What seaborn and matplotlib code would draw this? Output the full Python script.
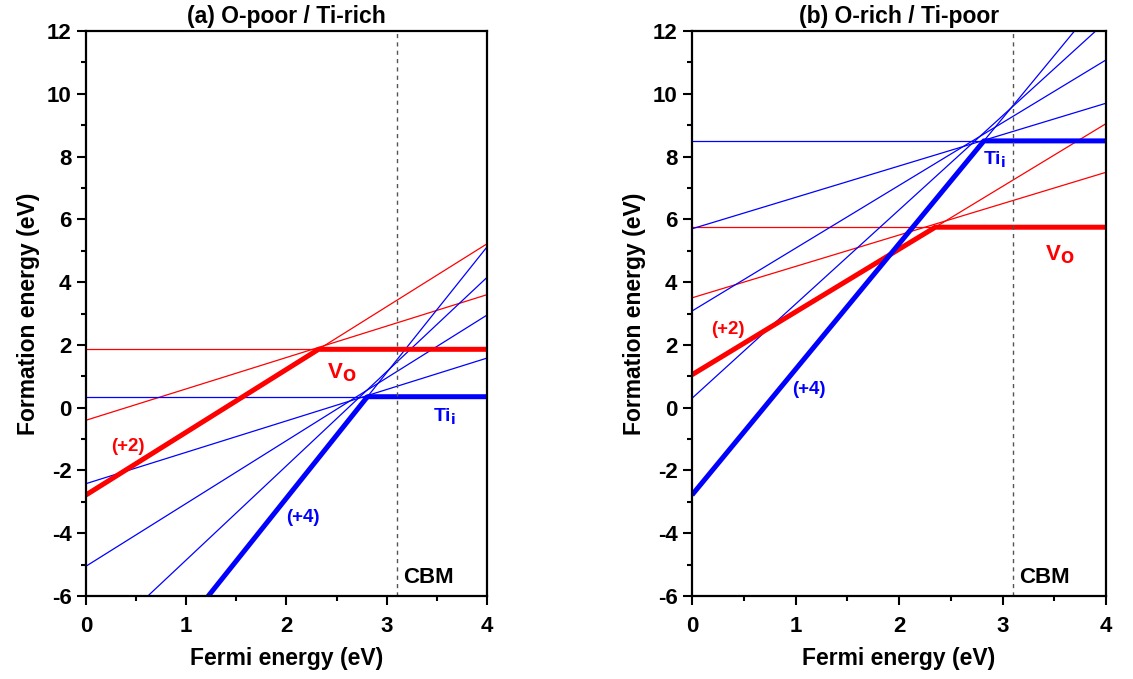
import numpy as np
import pandas as pd
import matplotlib
matplotlib.use("Agg")
import matplotlib.pyplot as plt
import seaborn as sns

# -- Data: formation energy E = E0 + q * E_F ------------------------
charges_vo = [0, 1, 2]
charges_ti = [0, 1, 2, 3, 4]

# intercepts at E_F = 0 (eV) for each charge state
vo_e0_a = [1.86, -0.40, -2.78]
ti_e0_a = [0.35, -2.42, -5.05, -7.85, -10.88]
vo_e0_b = [5.75, 3.50, 1.05]
ti_e0_b = [8.50, 5.70, 3.08, 0.30, -2.78]

panel_titles = ["(a) O-poor / Ti-rich", "(b) O-rich / Ti-poor"]
cbm = 3.1
fermi = np.linspace(0, 4, 801)

RED = "#FF0000"
BLUE = "#0000FF"

sns.set_theme(style="ticks")
plt.rcParams["font.family"] = ["Liberation Sans", "DejaVu Sans"]
plt.rcParams["font.weight"] = "bold"
plt.rcParams["axes.labelweight"] = "bold"
plt.rcParams["axes.titleweight"] = "bold"
plt.rcParams["axes.unicode_minus"] = False
plt.rcParams["text.color"] = "black"
plt.rcParams["axes.labelcolor"] = "black"
plt.rcParams["xtick.color"] = "black"
plt.rcParams["ytick.color"] = "black"


def lines_frame(charges, e0s, name):
    rows = []
    for q, e0 in zip(charges, e0s):
        rows.append(pd.DataFrame({"EF": fermi, "E": e0 + q * fermi,
                                  "q": q, "defect": name}))
    return pd.concat(rows, ignore_index=True)


def envelope(charges, e0s, name):
    vals = np.min([e0 + q * fermi for q, e0 in zip(charges, e0s)], axis=0)
    return pd.DataFrame({"EF": fermi, "E": vals, "defect": name})


fig = plt.figure(figsize=(11.33, 6.79), dpi=100)
ax_a = fig.add_axes([0.0759, 0.1222, 0.3539, 0.8321])
ax_b = fig.add_axes([0.6108, 0.1222, 0.3654, 0.8321])

panels = [
    (ax_a, vo_e0_a, ti_e0_a),
    (ax_b, vo_e0_b, ti_e0_b),
]

for (ax, vo_e0, ti_e0), title in zip(panels, panel_titles):
    thin = pd.concat([lines_frame(charges_vo, vo_e0, "V_O"),
                      lines_frame(charges_ti, ti_e0, "Ti_i")], ignore_index=True)
    thick = pd.concat([envelope(charges_vo, vo_e0, "V_O"),
                       envelope(charges_ti, ti_e0, "Ti_i")], ignore_index=True)
    sns.lineplot(data=thin, x="EF", y="E", hue="defect", units="q",
                 estimator=None, palette={"V_O": RED, "Ti_i": BLUE},
                 linewidth=0.9, legend=False, ax=ax)
    sns.lineplot(data=thick, x="EF", y="E", hue="defect",
                 estimator=None, palette={"V_O": RED, "Ti_i": BLUE},
                 linewidth=3.6, legend=False, ax=ax, solid_capstyle="butt")
    ax.axvline(cbm, color="#555555", linewidth=1.0, linestyle=(0, (3, 3)))

    ax.set_xlim(0, 4)
    ax.set_ylim(-6, 12)
    ax.set_xticks([0, 1, 2, 3, 4])
    ax.set_xticks(np.arange(0.5, 4, 1.0), minor=True)
    ax.set_yticks(np.arange(-6, 13, 2))
    ax.set_yticks(np.arange(-5, 12, 2), minor=True)
    ax.tick_params(which="major", direction="out", length=6.5, width=1.5,
                   labelsize=16, color="black", labelcolor="black")
    ax.tick_params(axis="x", which="major", pad=8)
    ax.tick_params(axis="y", which="major", pad=4)
    ax.tick_params(which="minor", direction="out", length=3.5, width=1.5,
                   color="black")
    for lbl in ax.get_xticklabels() + ax.get_yticklabels():
        lbl.set_fontweight("bold")
    for sp in ax.spines.values():
        sp.set_visible(True)
        sp.set_linewidth(1.6)
        sp.set_color("black")
    ax.set_xlabel("Fermi energy (eV)", fontsize=16.5, labelpad=7, color="black")
    ax.set_ylabel("Formation energy (eV)", fontsize=16.5, labelpad=5, color="black")
    ax.set_title(title, fontsize=16.5, pad=6, color="black")
    ax.text(cbm + 0.06, -5.4, "CBM", fontsize=16, fontweight="bold",
            ha="left", va="center", color="black")

# -- annotations ------------------------------------------------
ax_a.text(0.42, -1.25, "(+2)", color=RED, fontsize=13.5, ha="center", va="center")
ax_a.text(2.55, 1.1, r"V$_\mathbf{O}$", color=RED, fontsize=16, ha="center", va="center")
ax_a.text(3.58, -0.3, r"Ti$_\mathbf{i}$", color=BLUE, fontsize=14, ha="center", va="center")
ax_a.text(2.16, -3.5, "(+4)", color=BLUE, fontsize=13.5, ha="center", va="center")

ax_b.text(0.35, 2.5, "(+2)", color=RED, fontsize=13.5, ha="center", va="center")
ax_b.text(2.92, 7.9, r"Ti$_\mathbf{i}$", color=BLUE, fontsize=14, ha="center", va="center")
ax_b.text(3.55, 4.87, r"V$_\mathbf{O}$", color=RED, fontsize=16, ha="center", va="center")
ax_b.text(1.13, 0.57, "(+4)", color=BLUE, fontsize=13.5, ha="center", va="center")

plt.savefig("out.png", dpi=100)
plt.close()
